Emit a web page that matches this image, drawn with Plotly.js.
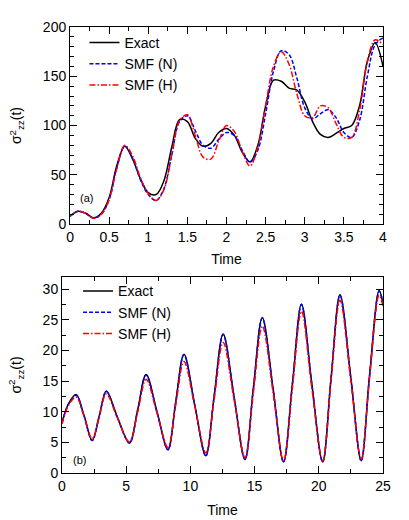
<!DOCTYPE html>
<html>
<head>
<meta charset="utf-8">
<script src="https://cdn.plot.ly/plotly-3.0.1.min.js"></script>
<style>
  html, body { margin: 0; padding: 0; background: #fff; }
  #chart { width: 409px; height: 520px; }
</style>
</head>
<body>
<div id="chart"></div>
<script>
// ---- panel (a) ----
let t_a = [0, 0.1, 0.2, 0.3, 0.4, 0.5, 0.6, 0.7, 0.8, 0.9,
           1.0, 1.1, 1.2, 1.3, 1.4, 1.5, 1.6, 1.7, 1.8, 1.9,
           2.0, 2.1, 2.2, 2.3, 2.4, 2.5, 2.6, 2.7, 2.8, 2.9,
           3.0, 3.1, 3.2, 3.3, 3.4, 3.5, 3.6, 3.7, 3.8, 3.9, 4.0];
let exact_a = [8, 13, 11, 6.5, 11, 27, 60, 79, 66, 46,
               32, 30, 44, 78, 106, 104, 87, 79, 82, 93,
               97, 90, 73, 63, 80, 120, 146, 145, 138, 136,
               124, 104, 91, 88, 92, 97, 100, 120, 165, 184, 160];
let smfN_a = [8, 13, 11, 6, 10, 25, 58, 79, 67, 45,
              30, 24, 36, 70, 104, 110, 95, 80, 77, 86,
              93, 90, 75, 63, 75, 112, 155, 176, 172, 148,
              118, 107, 112, 116, 108, 93, 88, 105, 150, 182, 189];
let smfH_a = [8, 13, 11, 6, 10, 25, 57, 80, 69, 47,
              31, 24, 35, 70, 105, 111, 90, 68, 66, 84,
              100, 94, 74, 59, 78, 120, 160, 175, 162, 132,
              110, 108, 120, 118, 102, 88, 88, 115, 165, 187, 182];

// ---- panel (b) ----
let t_b = [0, 0.5, 1.1, 1.7, 2.35, 2.9, 3.45, 4.3, 5.25, 5.9,
           6.55, 7.4, 8.25, 8.85, 9.5, 10.35, 11.2, 11.85, 12.55, 13.4,
           14.25, 14.9, 15.6, 16.45, 17.25, 17.95, 18.65, 19.45, 20.3, 20.95,
           21.65, 22.5, 23.3, 23.95, 24.7, 25];
let exact_b = [8.2, 11.3, 12.8, 9.5, 5.3, 9.3, 13.4, 9.2, 4.9, 10.4,
               16.1, 10.0, 3.8, 11.5, 19.4, 11.0, 2.8, 12.6, 22.7, 12.5,
               2.2, 13.8, 25.4, 13.6, 1.8, 14.7, 27.6, 14.7, 1.8, 15.4,
               29.1, 15.5, 2.0, 15.9, 29.8, 27.6];
let smfN_b = [8.2, 11.2, 12.7, 9.4, 5.3, 9.2, 13.3, 9.1, 4.9, 10.3,
              16.0, 9.9, 3.8, 11.4, 19.3, 10.9, 2.8, 12.5, 22.6, 12.4,
              2.2, 13.7, 25.3, 13.5, 1.8, 14.6, 27.5, 14.6, 1.8, 15.3,
              29.0, 15.4, 2.0, 15.8, 29.7, 27.8];
let smfH_b = [8.0, 11.0, 12.4, 9.4, 5.6, 9.2, 12.9, 9.1, 5.1, 10.0,
              15.3, 9.8, 4.2, 11.0, 18.2, 10.8, 3.3, 12.0, 21.3, 12.0,
              2.5, 13.0, 24.0, 13.0, 2.0, 14.0, 26.4, 14.0, 2.0, 15.0,
              28.2, 15.0, 2.3, 15.4, 29.0, 27.2];

let names = ['Exact', 'SMF (N)', 'SMF (H)'];
let colors = ['#000000', '#0000ff', '#ff0000'];
let dashes = ['solid', '4px,2px', '6px,2px,1.5px,2px'];

function line(i) {
  return {color: colors[i], width: 1.5, dash: dashes[i], shape: 'spline', smoothing: 1};
}

let data = [];
[exact_a, smfN_a, smfH_a].forEach(function(v, i) {
  data.push({x: t_a, y: v, type: 'scatter', mode: 'lines', name: names[i],
             line: line(i), xaxis: 'x', yaxis: 'y', legend: 'legend'});
});
[exact_b, smfN_b, smfH_b].forEach(function(v, i) {
  data.push({x: t_b, y: v, type: 'scatter', mode: 'lines', name: names[i],
             line: line(i), xaxis: 'x2', yaxis: 'y2', legend: 'legend2'});
});

let font = {family: 'Liberation Sans, Arial, sans-serif', size: 14, color: '#000'};

function ax(extra) {
  let base = {
    showline: true, linecolor: '#000', linewidth: 1, mirror: 'ticks',
    ticks: 'inside', ticklen: 7, tickwidth: 1, tickcolor: '#000',
    showgrid: false, zeroline: false, tickfont: font
  };
  return Object.assign(base, extra);
}

let ytitle = 'σ<sup>2</sup><sub>zz</sub>(t)';

let layout = {
  width: 409, height: 520,
  margin: {l: 62, r: 26, t: 27, b: 47},
  paper_bgcolor: '#fff', plot_bgcolor: '#fff',
  font: font,
  xaxis: ax({domain: [0.025, 1], range: [0, 4], dtick: 0.5, tick0: 0,
             minor: {ticks: 'inside', ticklen: 4, tickcolor: '#000', dtick: 0.25},
             anchor: 'y', title: {text: 'Time', font: font, standoff: 10}}),
  yaxis: ax({domain: [0.558, 1], range: [0, 200], dtick: 50, tick0: 0,
             minor: {ticks: 'inside', ticklen: 4, tickcolor: '#000', dtick: 10},
             anchor: 'x', title: {text: ytitle, font: font, standoff: 17}}),
  xaxis2: ax({domain: [0, 1], range: [0, 25], dtick: 5, tick0: 0,
              minor: {ticks: 'inside', ticklen: 4, tickcolor: '#000', dtick: 2.5},
              anchor: 'y2', title: {text: 'Time', font: font, standoff: 12}}),
  yaxis2: ax({domain: [0, 0.4395], range: [0, 32], dtick: 5, tick0: 0,
              minor: {ticks: 'inside', ticklen: 4, tickcolor: '#000', dtick: 2.5},
              anchor: 'x2', title: {text: ytitle, font: font, standoff: 17}}),
  legend: {x: 0.07, y: 1.0, xanchor: 'left', yanchor: 'top', bgcolor: 'rgba(0,0,0,0)',
           font: font, tracegroupgap: 0},
  legend2: {x: 0.05, y: 0.443, xanchor: 'left', yanchor: 'top', bgcolor: 'rgba(0,0,0,0)',
            font: font, tracegroupgap: 0},
  annotations: [
    {text: '(a)', xref: 'paper', yref: 'paper', x: 0.05, y: 0.617, showarrow: false,
     font: {family: font.family, size: 11, color: '#000'}},
    {text: '(b)', xref: 'paper', yref: 'paper', x: 0.027, y: 0.012, showarrow: false,
     font: {family: font.family, size: 11, color: '#000'}}
  ],
  showlegend: true
};

Plotly.newPlot('chart', data, layout, {displayModeBar: false, staticPlot: true});
</script>
</body>
</html>
